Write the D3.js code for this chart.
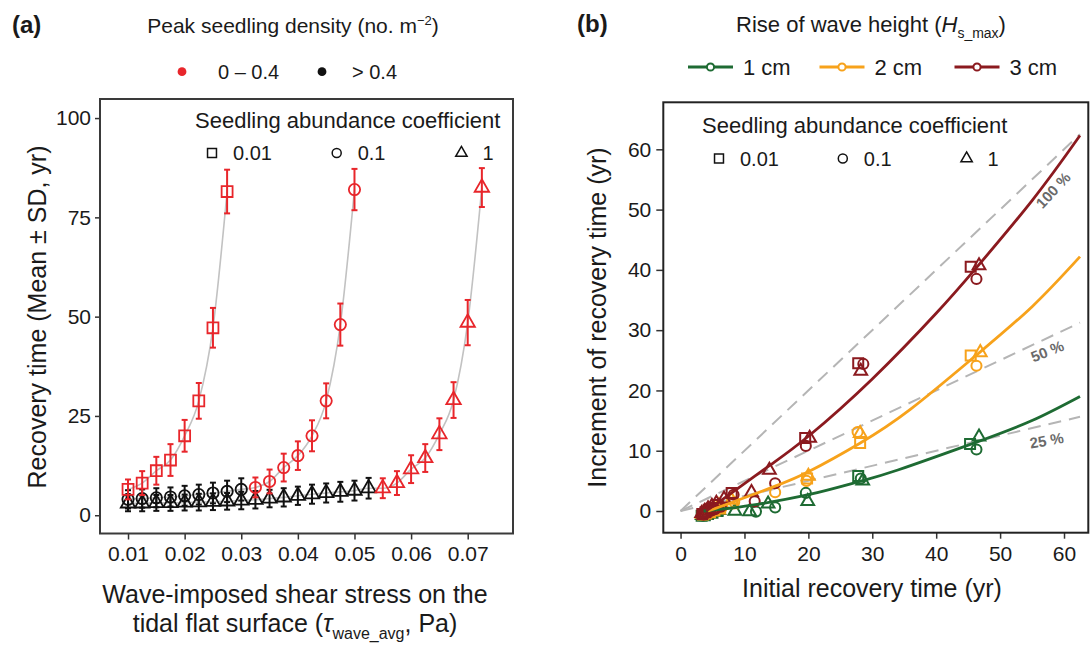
<!DOCTYPE html>
<html>
<head>
<meta charset="utf-8">
<script src="https://cdn.jsdelivr.net/npm/d3@7"></script>
<style>
  body { margin: 0; background: #fff; }
  text { font-family: "Liberation Sans", Arial, sans-serif; fill: #1a1a1a; }
</style>
</head>
<body>
<script>
// ---- panel (a) data : recovery time vs wave shear stress ----
// squares, coefficient 0.01 (all red)
const sqRedTau  = [0.0100, 0.0125, 0.0150, 0.0175, 0.0200, 0.0225, 0.0250, 0.0275]
const sqRedMean = [6.5, 8.1, 11.2, 13.9, 20.0, 28.8, 47.2, 81.5]
const sqRedSD   = [2.5, 3.0, 3.5, 4.0, 4.0, 4.5, 5.0, 5.5]
// circles, coefficient 0.1
const ciBlackTau  = [0.0100, 0.0125, 0.0150, 0.0175, 0.0200, 0.0225, 0.0250, 0.0275, 0.0300]
const ciBlackMean = [4.0, 4.2, 4.4, 4.6, 4.9, 5.2, 5.6, 6.0, 6.5]
const ciBlackSD   = [2.3, 2.3, 2.4, 2.4, 2.5, 2.5, 2.6, 2.7, 2.8]
const ciRedTau  = [0.0325, 0.0350, 0.0375, 0.0400, 0.0425, 0.0450, 0.0475, 0.0500]
const ciRedMean = [7.0, 8.5, 12.0, 15.0, 20.0, 28.8, 48.0, 82.0]
const ciRedSD   = [2.5, 3.0, 3.5, 3.6, 3.9, 4.4, 5.3, 5.2]
// triangles, coefficient 1
const trBlackTau  = [0.0100, 0.0125, 0.0150, 0.0175, 0.0200, 0.0225, 0.0250, 0.0275, 0.0300,
                     0.0325, 0.0350, 0.0375, 0.0400, 0.0425, 0.0450, 0.0475, 0.0500, 0.0525]
const trBlackMean = [3.0, 3.0, 3.1, 3.1, 3.2, 3.3, 3.4, 3.5, 3.7, 3.9, 4.2, 4.5, 4.9, 5.3, 5.6, 5.9, 6.2, 6.8]
const trBlackSD   = [2.0, 2.0, 2.0, 2.0, 2.0, 2.1, 2.1, 2.1, 2.2, 2.2, 2.2, 2.3, 2.3, 2.4, 2.4, 2.5, 2.5, 2.6]
const trRedTau  = [0.0550, 0.0575, 0.0600, 0.0625, 0.0650, 0.0675, 0.0700, 0.0725]
const trRedMean = [6.8, 8.1, 11.6, 14.4, 20.4, 29.0, 48.5, 82.5]
const trRedSD   = [2.5, 3.0, 3.5, 3.5, 4.0, 4.5, 5.7, 4.9]

const tauTicks = [0.01, 0.02, 0.03, 0.04, 0.05, 0.06, 0.07]
const recTicks = [0, 25, 50, 75, 100]
const coefLabels = ["0.01", "0.1", "1"]
const densityLabels = ["0 \u2013 0.4", "> 0.4"]

// ---- panel (b) data : increment vs initial recovery time ----
// 1 cm (green)
const g1SqX = [3.3, 3.8, 4.3, 5.0, 5.8, 27.8, 45.3]
const g1SqY = [-0.8, -0.7, -0.5, -0.3, 0.0, 5.8, 11.1]
const g1CiX = [3.5, 4.0, 4.6, 5.3, 6.2, 11.8, 14.8, 19.6, 28.2, 46.3]
const g1CiY = [-0.8, -0.6, -0.4, -0.2, 0.1, -0.1, 0.6, 3.0, 5.4, 10.2]
const g1TrX = [3.4, 3.9, 4.4, 5.1, 6.0, 8.5, 10.8, 13.7, 19.9, 28.5, 46.7]
const g1TrY = [-0.7, -0.6, -0.4, -0.2, 0.1, 0.0, -0.1, 1.2, 1.6, 5.0, 12.3]
// 2 cm (orange)
const g2SqX = [3.5, 4.0, 4.6, 5.3, 6.2, 8.1, 19.8, 28.1, 45.4]
const g2SqY = [-0.6, -0.4, -0.2, 0.1, 0.4, 1.3, 5.4, 11.3, 25.8]
const g2CiX = [3.6, 4.2, 4.8, 5.5, 6.4, 8.4, 14.8, 19.7, 27.7, 46.3]
const g2CiY = [-0.6, -0.4, -0.1, 0.2, 0.5, 1.5, 3.1, 5.0, 13.1, 24.1]
const g2TrX = [3.4, 3.9, 4.5, 5.2, 6.0, 8.0, 20.0, 28.1, 46.9]
const g2TrY = [-0.5, -0.2, 0.1, 0.5, 0.9, 1.8, 5.8, 12.9, 26.3]
// 3 cm (dark red)
const g3SqX = [3.4, 3.9, 4.4, 5.0, 5.8, 8.0, 19.5, 27.8, 45.4]
const g3SqY = [-0.5, -0.2, 0.2, 0.5, 1.0, 3.0, 12.1, 24.5, 40.5]
const g3CiX = [3.6, 4.1, 4.7, 5.4, 6.3, 8.3, 11.6, 14.8, 19.6, 28.6, 46.3]
const g3CiY = [-0.6, -0.3, 0.0, 0.3, 0.7, 2.7, 1.6, 4.6, 10.8, 24.4, 38.5]
const g3TrX = [3.3, 3.8, 4.3, 4.9, 5.6, 6.8, 11.1, 13.9, 20.2, 28.2, 46.7]
const g3TrY = [-0.4, 0.0, 0.4, 0.8, 1.3, 2.0, 3.1, 6.8, 12.1, 23.2, 40.7]

// fitted curves
const fit1X = [3.6, 8, 12, 20, 28, 34, 46, 55, 62.5]
const fit1Y = [0, 0.5, 1.1, 2.7, 4.9, 6.8, 11.3, 15.0, 19.0]
const fit2X = [4.3, 8, 15, 20, 28, 36, 46, 55, 62.5]
const fit2Y = [0, 1.4, 4.2, 6.5, 11.2, 16.9, 25.6, 33.9, 42.2]
const fit3X = [4, 8, 14, 20, 30, 40, 46, 55, 62.5]
const fit3Y = [0, 3.0, 7.6, 12.4, 21.9, 32.8, 40.0, 51.5, 62.3]

const guideRatio = [1, 0.5, 0.25]
const guideLabels = ["100 %", "50 %", "25 %"]
const waveLabels = ["1 cm", "2 cm", "3 cm"]
const initTicks = [0, 10, 20, 30, 40, 50, 60]
const incTicks = [0, 10, 20, 30, 40, 50, 60]

const red = "#e8262b"
const black = "#111"
const lineGrey = "#c2c2c2"
const waveColors = ["#1e6b33", "#f7a21b", "#8b1a1f"]

const svg = d3.select("body").append("svg")
  .attr("width", 1090)
  .attr("height", 649)

const shapes = [d3.symbolSquare, d3.symbolCircle, d3.symbolTriangle]
const shapeSize = [100, 80, 70]

function zip(xs, ys, extra) {
  return xs.map((x, i) => ({x: x, y: ys[i], sd: extra ? extra[i] : 0}))
}

function styleAxis(g, fs) {
  g.select(".domain").remove()
  g.selectAll(".tick line").attr("stroke", "#333").attr("stroke-width", 1.5)
  g.selectAll(".tick text").attr("font-size", fs).attr("fill", "#222")
    .attr("font-family", "Liberation Sans, Arial, sans-serif")
}

// =================== panel (a) ===================
const xA = d3.scaleLinear().domain([0.00505, 0.0780]).range([100, 513])
const yA = d3.scaleLinear().domain([-4.6, 104.8]).range([533.5, 99])

const pa = svg.append("g")

const smooth = d3.line()
  .x(d => xA(d.x))
  .y(d => yA(d.y))
  .curve(d3.curveMonotoneX)

const sqAll = zip(sqRedTau, sqRedMean)
const ciAll = zip(ciBlackTau, ciBlackMean).concat(zip(ciRedTau, ciRedMean))
const trAll = zip(trBlackTau, trBlackMean).concat(zip(trRedTau, trRedMean))

;[sqAll, ciAll, trAll].forEach(s => {
  pa.append("path")
    .datum(s)
    .attr("d", smooth)
    .attr("fill", "none")
    .attr("stroke", lineGrey)
    .attr("stroke-width", 1.6)
})

function drawSeries(data, shapeIdx, color) {
  const g = pa.append("g")
  data.forEach(d => {
    const cx = xA(d.x)
    g.append("line")
      .attr("x1", cx).attr("x2", cx)
      .attr("y1", yA(d.y - d.sd)).attr("y2", yA(d.y + d.sd))
      .attr("stroke", color).attr("stroke-width", 2)
    ;[d.y - d.sd, d.y + d.sd].forEach(v => {
      g.append("line")
        .attr("x1", cx - 3).attr("x2", cx + 3)
        .attr("y1", yA(v)).attr("y2", yA(v))
        .attr("stroke", color).attr("stroke-width", 2)
    })
    g.append("path")
      .attr("d", d3.symbol().type(shapes[shapeIdx]).size(shapeSize[shapeIdx] + 20)())
      .attr("transform", "translate(" + cx + "," + yA(d.y) + ")")
      .attr("fill", "none")
      .attr("stroke", color)
      .attr("stroke-width", 1.8)
  })
}

drawSeries(zip(trBlackTau, trBlackMean, trBlackSD), 2, black)
drawSeries(zip(ciBlackTau, ciBlackMean, ciBlackSD), 1, black)
drawSeries(zip(sqRedTau, sqRedMean, sqRedSD), 0, red)
drawSeries(zip(ciRedTau, ciRedMean, ciRedSD), 1, red)
drawSeries(zip(trRedTau, trRedMean, trRedSD), 2, red)

// axes a
pa.append("g")
  .attr("transform", "translate(0,533.5)")
  .call(d3.axisBottom(xA).tickValues(tauTicks).tickFormat(d3.format(".2f")).tickSize(6).tickPadding(7))
  .call(g => styleAxis(g, 21))

pa.append("g")
  .attr("transform", "translate(100,0)")
  .call(d3.axisLeft(yA).tickValues(recTicks).tickSize(5).tickPadding(4))
  .call(g => styleAxis(g, 21))

pa.append("rect")
  .attr("x", 100).attr("y", 99)
  .attr("width", 413).attr("height", 434.5)
  .attr("fill", "none")
  .attr("stroke", "#3a3a3a")
  .attr("stroke-width", 2)

// axis titles a
pa.append("text")
  .attr("transform", "translate(46,317) rotate(-90)")
  .attr("text-anchor", "middle")
  .attr("font-size", 25)
  .text("Recovery time (Mean \u00b1 SD, yr)")

pa.append("text")
  .attr("x", 295).attr("y", 603)
  .attr("text-anchor", "middle")
  .attr("font-size", 25)
  .text("Wave-imposed shear stress on the")

const xt2 = pa.append("text")
  .attr("x", 295).attr("y", 632)
  .attr("text-anchor", "middle")
  .attr("font-size", 25)
xt2.append("tspan").text("tidal flat surface (")
xt2.append("tspan").attr("font-style", "italic").text("\u03c4")
xt2.append("tspan").attr("font-size", 16).attr("dy", 7).text("wave_avg")
xt2.append("tspan").attr("dy", -7).text(", Pa)")

// legends a
svg.append("text")
  .attr("x", 12).attr("y", 33)
  .attr("font-size", 24).attr("font-weight", "bold")
  .text("(a)")

const ta = svg.append("text")
  .attr("x", 293).attr("y", 33)
  .attr("text-anchor", "middle")
  .attr("font-size", 21)
ta.append("tspan").text("Peak seedling density (no. m")
ta.append("tspan").attr("font-size", 13).attr("dy", -8).text("\u22122")
ta.append("tspan").attr("dy", 8).text(")")

const densX = [182, 322]
densityLabels.forEach((lab, i) => {
  svg.append("circle")
    .attr("cx", densX[i]).attr("cy", 71.7).attr("r", 4.4)
    .attr("fill", i === 0 ? red : black)
  svg.append("text")
    .attr("x", densX[i] + (i === 0 ? 36 : 30)).attr("y", 78.5)
    .attr("font-size", 20)
    .text(lab)
})

function coefLegend(x0, yTitle, yRow, step) {
  svg.append("text")
    .attr("x", x0).attr("y", yTitle)
    .attr("font-size", 22)
    .text("Seedling abundance coefficient")
  coefLabels.forEach((lab, i) => {
    const sx = x0 + 17 + i * step
    svg.append("path")
      .attr("d", d3.symbol().type(shapes[i]).size(shapeSize[i] * 0.8)())
      .attr("transform", "translate(" + sx + "," + yRow + ")")
      .attr("fill", "none").attr("stroke", black).attr("stroke-width", 1.5)
    svg.append("text")
      .attr("x", sx + 21).attr("y", yRow + 7)
      .attr("font-size", 20)
      .text(lab)
  })
}
coefLegend(195, 128, 153, 124.7)

// =================== panel (b) ===================
const xB = d3.scaleLinear().domain([-2.7, 63.8]).range([663.3, 1088.3])
const yB = d3.scaleLinear().domain([-3.6, 67.8]).range([532.7, 102.3])
const pb = svg.append("g")

const xEnd = 62.5
guideRatio.forEach(r => {
  pb.append("line")
    .attr("x1", xB(0)).attr("y1", yB(0))
    .attr("x2", xB(xEnd)).attr("y2", yB(xEnd * r))
    .attr("stroke", "#b5b5b5")
    .attr("stroke-width", 2)
    .attr("stroke-dasharray", "13,8")
})

const guideAt = [[58.3, 53.2, -47], [57.4, 26.5, -22], [57.3, 11.7, -10]]
guideLabels.forEach((lab, i) => {
  pb.append("text")
    .attr("transform", "translate(" + xB(guideAt[i][0]) + "," + yB(guideAt[i][1]) + ") rotate(" + guideAt[i][2] + ")")
    .attr("text-anchor", "middle")
    .attr("dy", "0.35em")
    .attr("font-size", 15)
    .attr("font-weight", "bold")
    .style("fill", "#6a6a6a")
    .text(lab)
})

const groups = [
  [[g1SqX, g1SqY], [g1CiX, g1CiY], [g1TrX, g1TrY]],
  [[g2SqX, g2SqY], [g2CiX, g2CiY], [g2TrX, g2TrY]],
  [[g3SqX, g3SqY], [g3CiX, g3CiY], [g3TrX, g3TrY]]
]

groups.forEach((grp, gi) => {
  grp.forEach((s, si) => {
    pb.selectAll(null)
      .data(zip(s[0], s[1]))
      .enter()
      .append("path")
      .attr("d", d3.symbol().type(shapes[si]).size(shapeSize[si])())
      .attr("transform", d => "translate(" + xB(d.x) + "," + yB(d.y) + ")")
      .attr("fill", "none")
      .attr("stroke", waveColors[gi])
      .attr("stroke-width", 2)
  })
})

const fitLine = d3.line()
  .x(d => xB(d.x))
  .y(d => yB(d.y))
  .curve(d3.curveNatural)

;[[fit1X, fit1Y], [fit2X, fit2Y], [fit3X, fit3Y]].forEach((f, i) => {
  pb.append("path")
    .datum(zip(f[0], f[1]))
    .attr("d", fitLine)
    .attr("fill", "none")
    .attr("stroke", waveColors[i])
    .attr("stroke-width", 2.8)
})

pb.append("g")
  .attr("transform", "translate(0,532.7)")
  .call(d3.axisBottom(xB).tickValues(initTicks).tickSize(6).tickPadding(7))
  .call(g => styleAxis(g, 21))

pb.append("g")
  .attr("transform", "translate(663.3,0)")
  .call(d3.axisLeft(yB).tickValues(incTicks).tickSize(7).tickPadding(5))
  .call(g => styleAxis(g, 21))

pb.append("rect")
  .attr("x", 663.3).attr("y", 102.3)
  .attr("width", 425).attr("height", 430.4)
  .attr("fill", "none")
  .attr("stroke", "#222")
  .attr("stroke-width", 2)

pb.append("text")
  .attr("transform", "translate(606,317.5) rotate(-90)")
  .attr("text-anchor", "middle")
  .attr("font-size", 25)
  .text("Increment of recovery time (yr)")

pb.append("text")
  .attr("x", 872).attr("y", 597)
  .attr("text-anchor", "middle")
  .attr("font-size", 25)
  .text("Initial recovery time (yr)")

// legends b
svg.append("text")
  .attr("x", 577).attr("y", 32)
  .attr("font-size", 24).attr("font-weight", "bold")
  .text("(b)")

const tb = svg.append("text")
  .attr("x", 871).attr("y", 32)
  .attr("text-anchor", "middle")
  .attr("font-size", 22)
tb.append("tspan").text("Rise of wave height (")
tb.append("tspan").attr("font-style", "italic").text("H")
tb.append("tspan").attr("font-size", 14).attr("dy", 6).text("s_max")
tb.append("tspan").attr("dy", -6).text(")")

const keyX = [688, 819.5, 954.5]
waveLabels.forEach((lab, i) => {
  svg.append("line")
    .attr("x1", keyX[i]).attr("x2", keyX[i] + 45)
    .attr("y1", 67).attr("y2", 67)
    .attr("stroke", waveColors[i]).attr("stroke-width", 3)
  svg.append("circle")
    .attr("cx", keyX[i] + 22.5).attr("cy", 67).attr("r", 3.6)
    .attr("fill", "#fff")
    .attr("stroke", waveColors[i]).attr("stroke-width", 2)
  svg.append("text")
    .attr("x", keyX[i] + 55).attr("y", 75)
    .attr("font-size", 22)
    .text(lab)
})

coefLegend(702, 133, 158.5, 123.8)
</script>
</body>
</html>
